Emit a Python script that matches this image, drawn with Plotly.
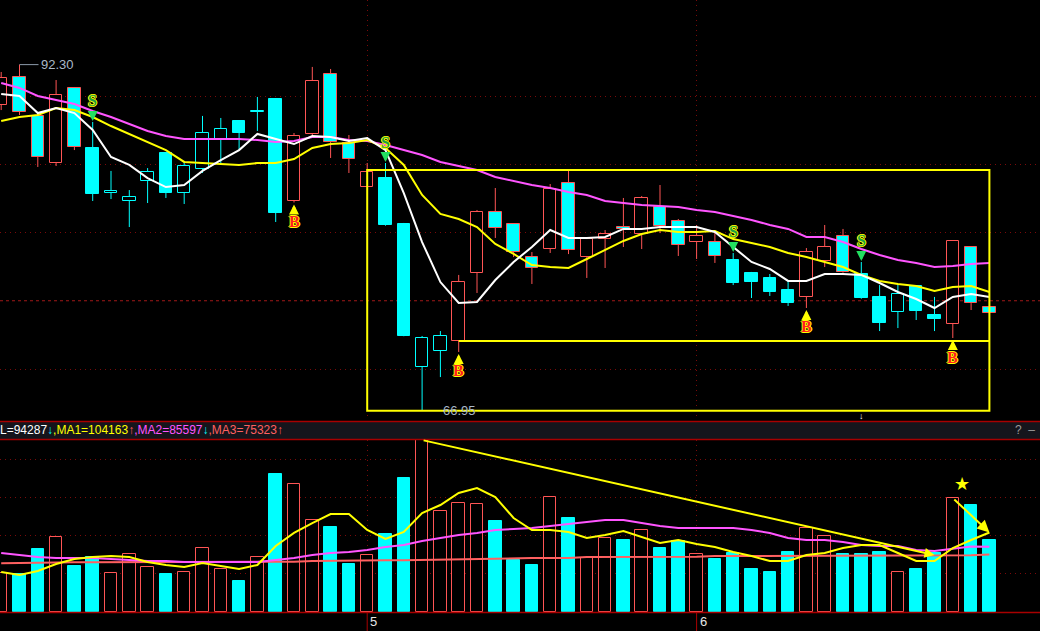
import plotly.graph_objects as go

# ---------------- data ----------------
opens = [89.34, 91.39, 88.54, 85.09, 90.59, 86.19, 82.90, 82.31, 83.77, 85.82,
         82.89, 84.65, 86.78, 88.17, 88.83, 89.78, 82.31, 87.22, 91.61, 86.56,
         83.33, 83.99, 80.62, 70.15, 71.32, 72.05, 77.03, 81.50, 80.62, 78.20,
         78.79, 83.63, 78.20, 79.52, 80.40, 79.89, 81.87, 80.84, 79.30, 79.30,
         77.98, 77.03, 76.67, 75.79, 75.28, 77.91, 79.74, 76.96, 75.28, 74.18,
         76.08, 73.96, 73.30, 78.94, 74.54]
highs = [91.76, 92.30, 88.83, 91.17, 90.66, 88.10, 84.51, 83.11, 84.72, 85.85,
         85.24, 88.54, 88.39, 88.20, 89.93, 89.80, 87.29, 92.13, 91.98, 87.14,
         85.09, 85.09, 80.70, 72.42, 72.78, 76.89, 81.65, 83.26, 80.65, 78.57,
         83.55, 84.51, 79.67, 80.18, 82.53, 82.67, 83.48, 80.99, 80.55, 80.04,
         78.50, 77.11, 76.96, 76.52, 78.86, 80.55, 80.26, 77.84, 76.15, 76.23,
         76.10, 75.28, 79.45, 79.00, 74.55]
lows = [88.97, 88.61, 84.80, 84.87, 86.04, 82.31, 82.45, 80.40, 82.16, 82.53,
        82.09, 84.36, 85.09, 86.04, 87.44, 80.77, 82.20, 86.99, 85.46, 84.36,
        83.30, 80.50, 72.40, 66.95, 69.41, 71.25, 75.57, 79.60, 78.20, 76.23,
        78.50, 78.42, 76.67, 77.40, 78.94, 78.79, 79.96, 78.28, 78.06, 77.77,
        76.15, 75.20, 75.35, 74.62, 74.47, 77.47, 77.05, 75.15, 72.78, 73.00,
        73.59, 72.78, 72.27, 74.32, 74.08]
closes = [91.32, 88.83, 85.53, 90.07, 86.26, 82.82, 83.04, 82.60, 84.43, 82.89,
          84.87, 87.29, 87.58, 87.29, 88.83, 81.43, 87.07, 91.10, 86.63, 85.38,
          84.43, 80.55, 72.42, 72.27, 72.42, 76.37, 81.50, 80.33, 78.57, 77.40,
          83.19, 78.72, 79.52, 79.89, 80.26, 82.53, 80.48, 79.08, 79.74, 78.28,
          76.30, 76.37, 75.64, 74.83, 78.57, 78.94, 77.11, 75.20, 73.37, 75.50,
          74.25, 73.66, 79.38, 74.83, 74.10]
volumes = [51100, 49800, 82500, 98200, 60200, 72000, 51100, 76000, 58900, 49800,
           52400, 83800, 56300, 40600, 72000, 180700, 167600, 120500, 111300, 62900,
           74600, 102100, 175500, 225200, 132300, 142700, 141400, 119200, 68100, 61500,
           150600, 123100, 70700, 96900, 94300, 107400, 83800, 93000, 76000, 69400,
           77300, 56300, 52400, 78600, 110000, 99500, 76000, 76000, 78600, 52400,
           56300, 77300, 149300, 140100, 94287]

ma_white = [90.15, 90.00, 88.75, 89.12, 88.75, 87.51, 85.53, 84.95, 83.99, 83.33,
            83.48, 84.51, 85.31, 86.04, 87.22, 86.85, 86.48, 87.07, 87.00, 86.70,
            86.92, 86.04, 82.89, 79.30, 76.37, 74.84, 74.91, 76.52, 77.84, 78.94,
            80.18, 79.60, 79.60, 79.67, 80.26, 80.26, 80.40, 80.40, 80.40, 80.04,
            78.94, 77.84, 77.33, 76.45, 76.45, 76.96, 76.96, 76.89, 76.30, 75.64,
            75.13, 74.47, 75.28, 75.49, 75.28]
ma_yellow = [88.17, 88.46, 88.61, 89.12, 88.97, 88.46, 87.80, 87.22, 86.63, 86.04,
             85.17, 85.09, 85.02, 84.95, 85.09, 85.09, 85.38, 86.19, 86.48, 86.56,
             86.78, 86.19, 84.95, 82.75, 81.36, 80.99, 80.40, 79.16, 78.43, 77.62,
             77.47, 77.40, 78.06, 78.72, 79.38, 79.89, 80.18, 80.04, 80.04, 80.11,
             79.52, 79.23, 78.94, 78.50, 78.21, 77.84, 77.47, 76.89, 76.45, 76.23,
             76.08, 75.71, 76.01, 76.08, 75.64]
ma_magenta = [90.95, 90.59, 90.00, 89.71, 89.41, 88.90, 88.46, 87.95, 87.44, 87.07,
              86.85, 86.85, 86.85, 86.85, 86.78, 86.63, 86.70, 87.00, 87.00, 86.78,
              86.70, 86.41, 86.04, 85.68, 85.17, 84.87, 84.58, 84.07, 83.77, 83.48,
              83.26, 82.97, 82.75, 82.31, 82.16, 82.02, 81.94, 81.87, 81.65, 81.50,
              81.21, 80.92, 80.55, 80.26, 79.67, 79.67, 79.30, 78.79, 78.35, 77.99,
              77.77, 77.47, 77.55, 77.69, 77.77]

vol_ma1 = [52400, 48500, 53700, 62900, 69400, 72000, 73300, 72000, 65500, 61500,
           58900, 64200, 60200, 56300, 61500, 86400, 103500, 116500, 128300, 128300,
           107400, 95600, 104800, 129600, 140100, 155800, 162400, 150600, 123100, 107400,
           107400, 104800, 96900, 100800, 106100, 98200, 90400, 94300, 89000, 85100,
           78600, 73300, 66800, 66800, 74600, 77300, 83800, 87700, 87700, 77300,
           66800, 66800, 83800, 94300, 104163]
vol_ma2 = [77300, 74600, 72000, 70700, 70700, 70700, 69400, 68100, 66800, 66800,
           65500, 65500, 65500, 65500, 65500, 68100, 70700, 74600, 77300, 78600,
           81200, 85100, 87700, 93000, 96900, 100800, 103500, 107400, 108700, 110000,
           112600, 115200, 117900, 120500, 120500, 116500, 112600, 110000, 110000, 110000,
           110000, 107400, 103500, 96900, 94300, 94300, 91700, 87700, 86400, 86400,
           81200, 79900, 82500, 85900, 85597]
vol_ma3 = [63800, 64200, 65100, 65100, 65100, 65100, 65100, 65100, 65100, 65100,
           65100, 65100, 65100, 65100, 65100, 65500, 65900, 66800, 67200, 67700,
           67700, 67700, 67700, 68100, 69400, 69800, 69800, 69800, 70700, 70700,
           70700, 70700, 72000, 72000, 72000, 72400, 72400, 72400, 72400, 73300,
           73300, 73300, 73300, 73300, 73300, 73700, 73700, 73700, 73700, 73700,
           73700, 74200, 74200, 74200, 75323]

sell_signals = [5, 21, 40, 47]
buy_signals = [16, 25, 44, 52]
month_starts = [20, 38]
month_labels = ["5", "6"]
box_start, box_end, box_top = 20, 54, 84.58
support_start = 25
price_grid = [70, 80, 85, 90]
ref_level = 75
vol_grid = [50000, 100000, 150000, 200000]
trend_from, trend_to, trend_end_level = 23, 51, 74600

# ---------------- geometry / styles ----------------
W, H = 1040, 631
BAR_PX, FIRST_PX = 18.3, 1.2
RED = "#FF5555"
CYAN = "#00FFFF"
YEL = "#FFFF00"
MAG = "#FF55FF"
FRAME = "#A80000"
GRID = "#7A0A0A"
GDASH = "1px,4px"
n = len(closes)
idx = list(range(n))


def py(px):  # paper y from pixel row
    return (H - px) / H


x_range = [-FIRST_PX / BAR_PX, (W - FIRST_PX) / BAR_PX]
price_top, price_bot = 97.033, 66.264
vol_top = 225234

# state: sell from an S signal until the next B signal
state_sell = []
cur = False
for i in idx:
    if i in sell_signals:
        cur = True
    if i in buy_signals:
        cur = False
    state_sell.append(cur)

edge = [CYAN if s else RED for s in state_sell]
up = [c >= o for o, c in zip(opens, closes)]
body_fill = ["#000000" if u else CYAN for u in up]
body_base = [min(o, c) for o, c in zip(opens, closes)]
body_h = [max(abs(c - o), 0.05) for o, c in zip(opens, closes)]

fig = go.Figure()

# wicks (split around the body so hollow bodies stay empty)
for colr, flag in ((RED, False), (CYAN, True)):
    wx, wy = [], []
    for i in idx:
        if state_sell[i] != flag:
            continue
        top = max(opens[i], closes[i])
        bot = min(opens[i], closes[i])
        wx += [i, i, None, i, i, None]
        wy += [highs[i], top, None, bot, lows[i], None]
    fig.add_trace(go.Scatter(x=wx, y=wy, mode="lines", line=dict(color=colr, width=1),
                             hoverinfo="skip", showlegend=False, xaxis="x", yaxis="y"))

fig.add_trace(go.Bar(x=idx, y=body_h, base=body_base, width=0.68,
                     marker=dict(color=body_fill, line=dict(color=edge, width=1)),
                     showlegend=False, xaxis="x", yaxis="y"))

for arr, colr in ((ma_magenta, MAG), (ma_yellow, YEL), (ma_white, "#FFFFFF")):
    fig.add_trace(go.Scatter(x=idx, y=arr, mode="lines", line=dict(color=colr, width=2),
                             showlegend=False, xaxis="x", yaxis="y"))

# volume
vol_fill = ["#000000" if u else CYAN for u in up]
vol_edge = [RED if u else CYAN for u in up]
fig.add_trace(go.Bar(x=idx, y=volumes, width=0.68,
                     marker=dict(color=vol_fill, line=dict(color=vol_edge, width=1)),
                     showlegend=False, xaxis="x2", yaxis="y2"))
for arr, colr in ((vol_ma3, "#FF6060"), (vol_ma2, MAG), (vol_ma1, YEL)):
    fig.add_trace(go.Scatter(x=idx, y=arr, mode="lines", line=dict(color=colr, width=2),
                             showlegend=False, xaxis="x2", yaxis="y2"))

ann = []
shadow_y = "1px 0 0 #FFFF00, -1px 0 0 #FFFF00, 0 1px 0 #FFFF00, 0 -1px 0 #FFFF00"
for i in sell_signals:
    ann.append(dict(x=i, y=highs[i], xref="x", yref="y", text="S", showarrow=False,
                    yshift=21, font=dict(family="Liberation Serif", size=16, color="#1FA040",
                                         weight="bold", shadow=shadow_y)))
    ann.append(dict(x=i, y=highs[i], xref="x", yref="y", text="", showarrow=True,
                    ax=0, ay=-11, arrowcolor="#22E060", arrowwidth=2.5, arrowhead=2,
                    arrowsize=0.8, standoff=1))
for i in buy_signals:
    ann.append(dict(x=i, y=lows[i], xref="x", yref="y", text="B", showarrow=False,
                    yshift=-19, font=dict(family="Liberation Serif", size=16, color="#FF2020",
                                          weight="bold", shadow=shadow_y)))
    ann.append(dict(x=i, y=lows[i], xref="x", yref="y", text="", showarrow=True,
                    ax=0, ay=11, arrowcolor=YEL, arrowwidth=2.5, arrowhead=2,
                    arrowsize=0.8, standoff=2))

hi_i = max(idx, key=lambda i: highs[i])
lo_i = min(idx, key=lambda i: lows[i])
ann.append(dict(x=hi_i, y=highs[hi_i], xref="x", yref="y", text=f"{highs[hi_i]:.2f}",
                showarrow=True, ax=19, ay=0, xanchor="left", arrowhead=0, arrowwidth=1,
                arrowcolor="#8C9AAA", font=dict(family="Liberation Sans", size=13, color="#A9B8C8")))
ann.append(dict(x=lo_i, y=lows[lo_i], xref="x", yref="y", text=f"{lows[lo_i]:.2f}",
                showarrow=False, xanchor="left", xshift=19,
                font=dict(family="Liberation Sans", size=13, color="#A9B8C8")))
ann.append(dict(x=sell_signals[-1], y=min(lows), xref="x", yref="y", text="↓",
                showarrow=False, yshift=-5, font=dict(size=9, color="#FFFFFF")))

# volume panel markings
ann.append(dict(x=trend_to, y=trend_end_level, xref="x2", yref="y2",
                ax=trend_from, ay=volumes[trend_from], axref="x2", ayref="y2",
                text="", showarrow=True, arrowcolor=YEL, arrowwidth=2, arrowhead=2, arrowsize=1))
ann.append(dict(x=n - 1, y=vol_ma1[-1], xref="x2", yref="y2",
                ax=buy_signals[-1], ay=volumes[buy_signals[-1]], axref="x2", ayref="y2",
                text="", showarrow=True, arrowcolor=YEL, arrowwidth=2, arrowhead=2, arrowsize=1.2))
ann.append(dict(x=buy_signals[-1], y=volumes[buy_signals[-1]], xref="x2", yref="y2",
                text="★", showarrow=False, xshift=9, yshift=14,
                font=dict(family="DejaVu Sans", size=18, color=YEL)))


def arrow(cur_v, prev_v):
    return ("↑", RED) if cur_v >= prev_v else ("↓", CYAN)


parts = [("L", volumes, "#FFFFFF"), ("MA1", vol_ma1, YEL), ("MA2", vol_ma2, MAG),
         ("MA3", vol_ma3, "#FF6060")]
hdr = []
for k, (name, arr, colr) in enumerate(parts):
    sym, scol = arrow(arr[-1], arr[-2])
    pre = "," if k else ""
    hdr.append(f"<span style='color:{colr}'>{pre}{name}={arr[-1]:.0f}</span>"
               f"<span style='color:{scol}'><b>{sym}</b></span>")
ann.append(dict(x=0, y=py(430), xref="paper", yref="paper", xanchor="left", yanchor="middle",
                text="".join(hdr), showarrow=False, xshift=-2,
                font=dict(family="Liberation Sans", size=12)))
ann.append(dict(x=1, y=py(430), xref="paper", yref="paper", xanchor="right", yanchor="middle",
                text="?  –", showarrow=False, xshift=-3,
                font=dict(family="Liberation Sans", size=12, color="#9A9A9A")))
for m, lab in zip(month_starts, month_labels):
    ann.append(dict(x=m, y=py(621), xref="x2", yref="paper", xanchor="left", yanchor="middle",
                    text=lab, showarrow=False, xshift=1,
                    font=dict(family="Liberation Sans", size=13, color="#E6E6E6")))

shapes = [
    dict(type="rect", xref="paper", yref="paper", x0=0, x1=1, y0=py(439.5), y1=py(421),
         fillcolor="#15151C", line=dict(width=0), layer="below"),
    dict(type="line", xref="paper", yref="paper", x0=0, x1=1, y0=py(421.5), y1=py(421.5),
         line=dict(color=FRAME, width=1.5)),
    dict(type="line", xref="paper", yref="paper", x0=0, x1=1, y0=py(439.5), y1=py(439.5),
         line=dict(color=FRAME, width=1.5)),
    dict(type="line", xref="paper", yref="paper", x0=0, x1=1, y0=py(612.5), y1=py(612.5),
         line=dict(color=FRAME, width=1.5)),
    dict(type="line", xref="paper", yref="y", x0=0, x1=1, y0=ref_level, y1=ref_level,
         line=dict(color="#A01818", width=1, dash="3px,3px"), layer="below"),
    dict(type="rect", xref="x", yref="y", x0=box_start, x1=box_end, y0=min(lows), y1=box_top,
         line=dict(color=YEL, width=2)),
    dict(type="line", xref="x", yref="y", x0=support_start, x1=box_end,
         y0=opens[support_start], y1=opens[support_start], line=dict(color=YEL, width=2)),
]
for m in month_starts:
    shapes.append(dict(type="line", xref="x2", yref="paper", x0=m, x1=m, y0=0, y1=py(612.5),
                       line=dict(color=FRAME, width=1)))

axis_common = dict(showticklabels=False, ticks="", showgrid=True, gridcolor=GRID,
                   griddash=GDASH, gridwidth=1, zeroline=False, showline=False,
                   fixedrange=True)
fig.update_layout(
    width=W, height=H, margin=dict(l=0, r=0, t=0, b=0),
    paper_bgcolor="#000000", plot_bgcolor="#000000",
    barmode="overlay", bargap=0, showlegend=False, dragmode=False,
    xaxis=dict(domain=[0, 1], range=x_range, anchor="y", tickvals=month_starts, **axis_common),
    yaxis=dict(domain=[py(420), 1], range=[price_bot, price_top], tickvals=price_grid,
               **axis_common),
    xaxis2=dict(domain=[0, 1], range=x_range, anchor="y2", matches="x", tickvals=month_starts,
                **axis_common),
    yaxis2=dict(domain=[py(612), py(440)], range=[0, vol_top], tickvals=vol_grid,
                **axis_common),
    annotations=ann, shapes=shapes,
)

fig.write_html(
    "out.html",
    config={"displayModeBar": False},
    post_script="document.body.style.margin='0';document.body.style.padding='0';"
                "document.body.style.overflow='hidden';document.body.style.background='#000';",
)
